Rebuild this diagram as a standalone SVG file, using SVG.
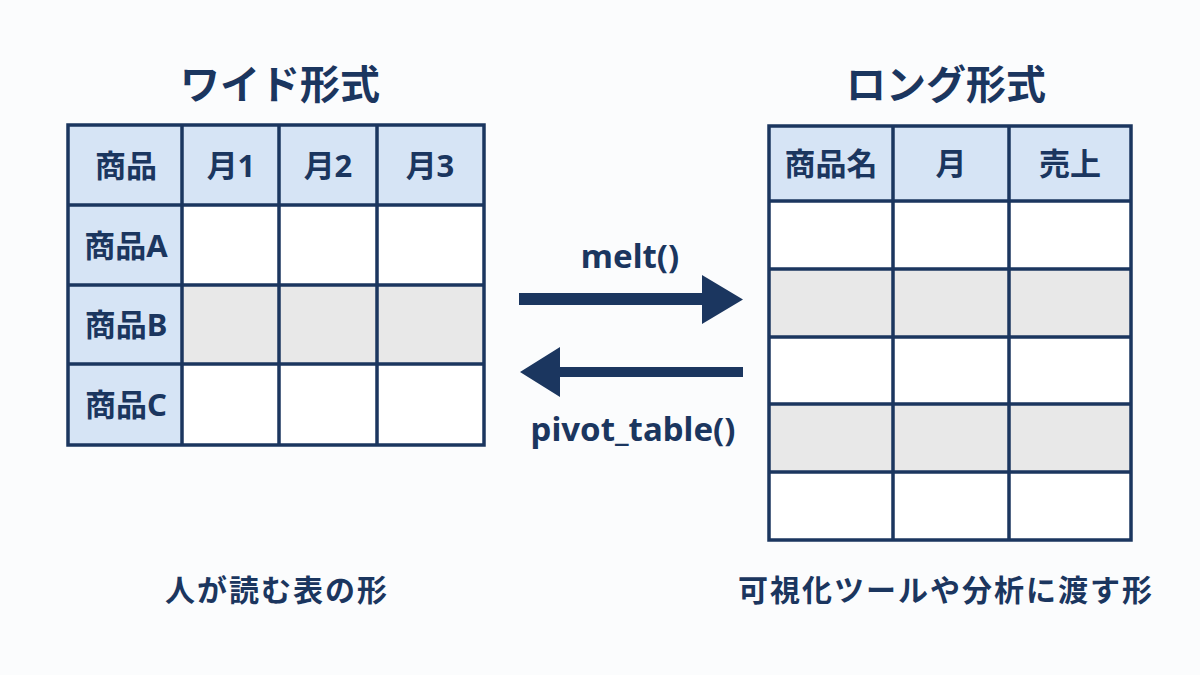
<svg xmlns="http://www.w3.org/2000/svg" width="1200" height="675" viewBox="0 0 1200 675">
<defs>
<style>
.t{font-family:"Noto Sans","Noto Sans CJK JP",sans-serif;font-weight:700;fill:#1b365f;text-anchor:middle}
.title{font-size:40px}
.cap{font-size:30px;letter-spacing:2px}
.cell{font-size:31px}
.fn{font-size:33px}
.hdr{fill:#d6e4f5}
.wh{fill:#ffffff}
.gr{fill:#e8e8e8}
.grid{stroke:#1b365f;stroke-width:3.5;fill:none}
.arr{fill:#1b365f}
</style>
</defs>
<rect width="1200" height="675" fill="#fbfcfd"/>

<g id="wide-title"><text class="t title" x="280" y="99">ワイド形式</text></g>
<g id="long-title"><text class="t title" x="946" y="99">ロング形式</text></g>

<g id="wide-table">
<rect class="hdr" x="68" y="125" width="416" height="80"/>
<rect class="hdr" x="68" y="205" width="114" height="240"/>
<rect class="wh" x="182" y="205" width="302" height="80"/>
<rect class="gr" x="182" y="285" width="302" height="79"/>
<rect class="wh" x="182" y="364" width="302" height="81"/>
<rect class="grid" x="68" y="125" width="416" height="320"/>
<path class="grid" d="M182 125V445M279 125V445M377 125V445M68 205H484M68 285H484M68 364H484"/>
<text class="t cell" x="126" y="177">商品</text>
<text class="t cell" x="231" y="177">月1</text>
<text class="t cell" x="328" y="177">月2</text>
<text class="t cell" x="430" y="177">月3</text>
<text class="t cell" x="126" y="257">商品A</text>
<text class="t cell" x="126" y="336">商品B</text>
<text class="t cell" x="126" y="416">商品C</text>
</g>

<g id="long-table">
<rect class="hdr" x="769" y="126" width="362" height="75"/>
<rect class="wh" x="769" y="201" width="362" height="68"/>
<rect class="gr" x="769" y="269" width="362" height="68"/>
<rect class="wh" x="769" y="337" width="362" height="67"/>
<rect class="gr" x="769" y="404" width="362" height="68"/>
<rect class="wh" x="769" y="472" width="362" height="68"/>
<rect class="grid" x="769" y="126" width="362" height="414"/>
<path class="grid" d="M893 126V540M1009 126V540M769 201H1131M769 269H1131M769 337H1131M769 404H1131M769 472H1131"/>
<text class="t cell" x="831" y="175">商品名</text>
<text class="t cell" x="951" y="175">月</text>
<text class="t cell" x="1070" y="175">売上</text>
</g>

<g id="connectors">
<path class="arr" d="M519 293H702V275L743 299.5L702 324V305H519Z"/>
<path class="arr" d="M743 367H560V347L520 372L560 397V377H743Z"/>
<text class="t fn" x="630" y="268">melt()</text>
<text class="t fn" x="633" y="441">pivot_table()</text>
</g>

<g id="captions">
<text class="t cap" x="277" y="601">人が読む表の形</text>
<text class="t cap" x="946" y="601">可視化ツールや分析に渡す形</text>
</g>
</svg>
